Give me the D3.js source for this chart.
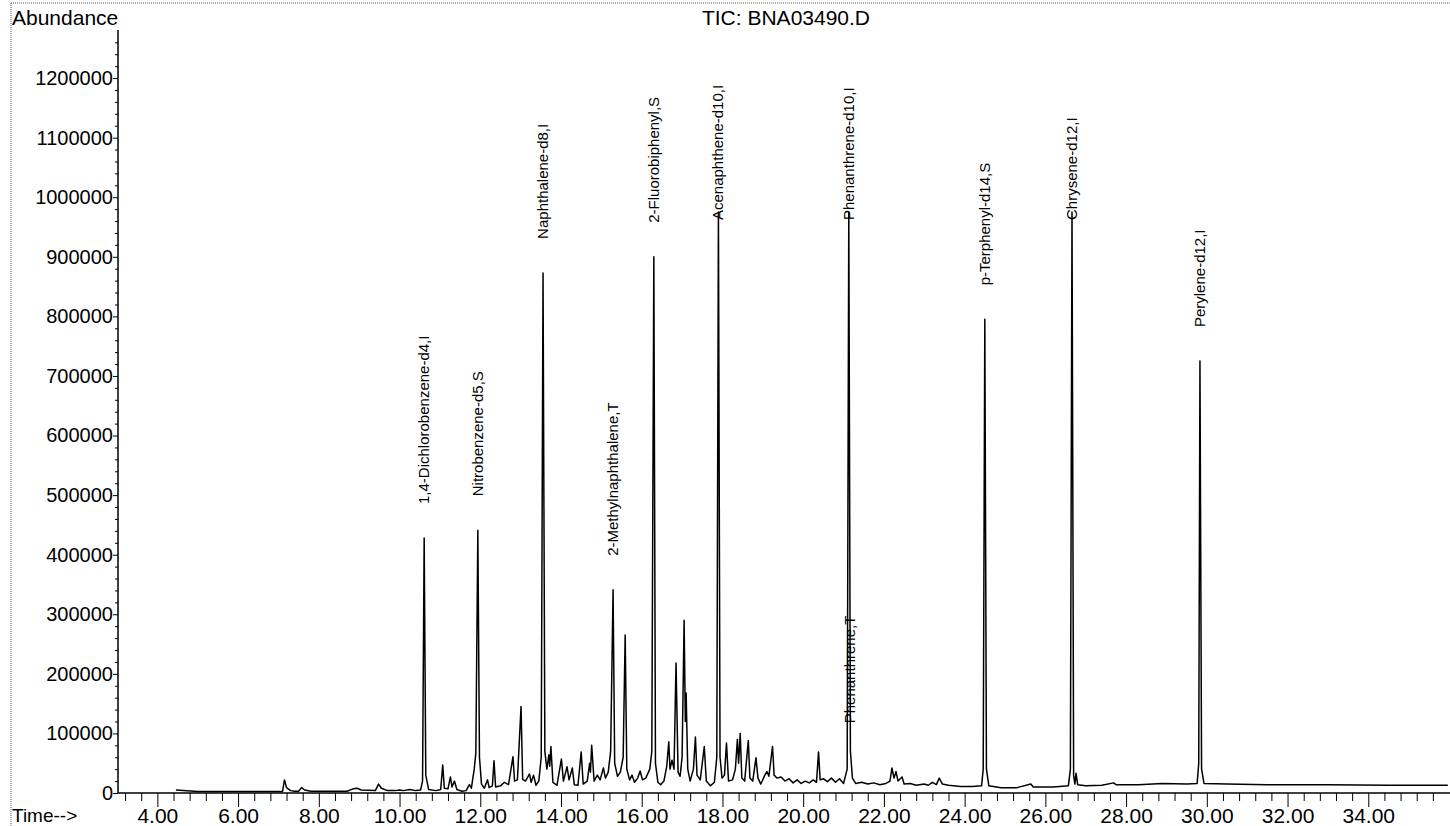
<!DOCTYPE html>
<html>
<head>
<meta charset="utf-8">
<script src="https://cdn.jsdelivr.net/npm/d3@7"></script>
<style>
body{margin:0;background:#fff;}
svg{display:block;font-family:"Liberation Sans",Arial,sans-serif;}
</style>
</head>
<body>
<script>
"use strict";

// TIC trace, [retention time (min), abundance]
const traceEarly = [
  [4.46,5000],[5.0,2500],[7.1,2500],[7.15,22000],[7.2,9000],[7.3,4000],[7.4,3000],
  [7.5,3000],[7.57,9000],[7.65,5000],[7.8,3000],[8.7,3000],[8.85,7000],[8.95,8000],
  [9.05,5000],[9.4,4000],[9.48,15000],[9.55,8000],[9.7,4000],[9.9,4000],[10.0,5000],
  [10.1,4000],[10.25,6000],[10.4,4000],[10.52,5000],[10.57,20000],[10.61,428000],
  [10.65,30000],[10.72,6000],[10.9,4000],[11.02,6000],[11.07,47000],[11.11,8000],
  [11.2,7000],[11.26,27000],[11.3,10000],[11.36,20000],[11.42,6000],[11.55,3000],
  [11.65,4000],[11.73,14000],[11.78,8000],[11.85,40000],[11.89,67000],[11.94,441000],
  [11.98,60000],[12.03,15000],[12.1,8000],[12.18,22000],[12.22,9000],[12.3,12000],
  [12.34,54000],[12.38,10000],[12.5,12000],[12.6,18000],[12.7,14000],[12.81,61000],
  [12.85,20000],[12.92,22000],[13.01,145000],[13.05,23000],[13.12,20000],[13.22,32000],
  [13.26,18000],[13.32,30000],[13.38,13000],[13.45,20000],[13.51,60000],[13.555,873000],
  [13.6,70000],[13.65,40000],[13.7,64000],[13.72,45000],[13.75,78000],[13.8,18000],
  [13.9,13000],[14.01,57000],[14.06,20000],[14.15,44000],[14.2,22000],[14.28,42000],
  [14.33,14000],[14.42,13000],[14.5,69000],[14.55,15000],[14.65,20000],[14.71,50000],
  [14.73,35000],[14.76,80000],[14.82,20000],[14.9,30000],[14.97,22000],[15.05,42000],
  [15.1,25000],[15.17,35000],[15.23,70000],[15.29,341000],[15.33,50000],[15.4,28000],
  [15.47,35000],[15.54,60000],[15.59,265000],[15.63,40000],[15.7,22000],[15.76,30000],
  [15.82,18000],[15.9,25000],[15.96,37000],[16.02,22000],[16.1,25000],[16.2,40000],
  [16.25,70000],[16.3,900000],[16.34,50000],[16.4,18000],[16.47,14000]
];
const traceMid = [
  [16.55,20000],[16.62,45000],[16.67,86000],[16.7,40000],[16.75,55000],[16.8,40000],
  [16.85,218000],[16.9,35000],[16.95,28000],[17.0,60000],[17.05,290000],[17.08,120000],
  [17.1,168000],[17.14,40000],[17.2,20000],[17.28,40000],[17.33,94000],[17.37,30000],
  [17.45,22000],[17.55,78000],[17.6,20000],[17.7,12000],[17.8,18000],[17.86,60000],
  [17.9,975000],[17.94,60000],[17.99,25000],[18.05,30000],[18.1,84000],[18.15,20000],
  [18.25,22000],[18.32,40000],[18.37,90000],[18.4,50000],[18.44,100000],[18.48,25000],
  [18.55,20000],[18.64,88000],[18.68,25000],[18.75,20000],[18.83,59000],[18.88,25000],
  [18.95,15000],[19.05,30000],[19.1,36000],[19.15,28000],[19.24,78000],[19.28,30000],
  [19.35,25000],[19.45,27000],[19.55,20000],[19.65,24000],[19.75,17000],[19.85,22000],
  [19.95,16000],[20.05,20000],[20.15,17000],[20.25,22000],[20.33,18000],[20.38,69000],
  [20.42,22000],[20.5,24000],[20.6,19000],[20.7,25000],[20.8,18000],[20.9,24000],
  [21.0,16000],[21.09,40000],[21.13,975000],[21.17,70000],[21.22,25000],[21.3,16000],
  [21.45,18000],[21.6,15000],[21.75,17000],[21.9,14000],[22.05,16000],[22.15,20000],
  [22.2,42000],[22.25,25000],[22.3,36000],[22.35,20000],[22.45,27000],[22.5,15000],
  [22.65,16000],[22.8,13000],[23.0,15000],[23.1,13000],[23.2,18000],[23.3,14000],
  [23.37,25000],[23.45,15000],[23.6,13000],[23.9,11000],[24.2,11000]
];
const traceLate = [
  [24.42,12000],[24.46,40000],[24.5,795000],[24.54,40000],[24.6,12000],[24.9,9000],
  [25.3,9000],[25.64,15000],[25.7,10000],[26.2,10000],[26.57,12000],[26.62,40000],
  [26.66,975000],[26.7,30000],[26.73,15000],[26.76,33000],[26.8,14000],[27.0,12000],
  [27.4,13000],[27.69,17000],[27.75,14000],[28.3,14000],[28.9,16000],[29.5,15000],
  [29.76,16000],[29.8,50000],[29.83,725000],[29.87,40000],[29.93,16000],[30.5,15000],
  [31.5,14000],[33.0,14000],[34.5,13000],[35.97,13000]
];

// peak annotations
const peakNames = ["1,4-Dichlorobenzene-d4,I","Nitrobenzene-d5,S","Naphthalene-d8,I",
  "2-Methylnaphthalene,T","2-Fluorobiphenyl,S","Acenaphthene-d10,I","Phenanthrene-d10,I",
  "Phenanthrene,T","p-Terphenyl-d14,S","Chrysene-d12,I","Perylene-d12,I"];
const peakRt = [10.61,11.94,13.555,15.29,16.3,17.9,21.13,21.15,24.5,26.66,29.83];
const peakTop = [428000,441000,873000,341000,900000,975000,975000,60000,795000,975000,725000];

const xMajor = [4,6,8,10,12,14,16,18,20,22,24,26,28,30,32,34];
const yMajor = [0,100000,200000,300000,400000,500000,600000,700000,800000,900000,1000000,1100000,1200000];

const w = 1450;
const h = 826;
const svg = d3.select("body").append("svg")
              .attr("width", w)
              .attr("height", h);

const xScale = d3.scaleLinear().domain([3, 36]).range([117, 1449]);
const yScale = d3.scaleLinear().domain([0, 1280000]).range([793, 30.4]);

// dotted frame of the printout
svg.append("line").attr("x1", 11).attr("y1", 3).attr("x2", w).attr("y2", 3)
   .attr("stroke", "#555").attr("stroke-width", 1).attr("stroke-dasharray", "1,1");
svg.append("line").attr("x1", 11).attr("y1", 3).attr("x2", 11).attr("y2", h)
   .attr("stroke", "#555").attr("stroke-width", 1).attr("stroke-dasharray", "1,1");

// x axis: minor ticks then major ticks with labels
const xMinor = d3.range(3.2, 36, 0.4).filter(t => !xMajor.some(m => Math.abs(m - t) < 0.01));
svg.append("g")
   .attr("transform", "translate(0,793)")
   .call(d3.axisBottom(xScale).tickValues(xMinor).tickSize(8).tickSizeOuter(0).tickFormat(""))
   .call(g => g.select(".domain").remove());
const xAxis = svg.append("g")
   .attr("transform", "translate(0,793)")
   .call(d3.axisBottom(xScale).tickValues(xMajor).tickSize(14).tickSizeOuter(0)
           .tickPadding(1).tickFormat(d3.format(".2f")));
xAxis.select(".domain").remove();
xAxis.selectAll("text").attr("font-size", 21).attr("font-family", "Liberation Sans, Arial, sans-serif");
svg.append("line").attr("x1", 118).attr("x2", w).attr("y1", 793).attr("y2", 793)
   .attr("stroke", "#000").attr("stroke-width", 1.5);

// y axis
const yMinor = d3.range(20000, 1280000, 20000).filter(v => v % 100000 !== 0);
svg.append("g")
   .attr("transform", "translate(118,0)")
   .call(d3.axisLeft(yScale).tickValues(yMinor).tickSize(3).tickSizeOuter(0).tickFormat(""))
   .call(g => g.select(".domain").remove());
const yAxis = svg.append("g")
   .attr("transform", "translate(118,0)")
   .call(d3.axisLeft(yScale).tickValues(yMajor).tickSize(5).tickSizeOuter(0)
           .tickPadding(0).tickFormat(d3.format("d")));
yAxis.select(".domain").remove();
yAxis.selectAll("text").attr("font-size", 20).attr("font-family", "Liberation Sans, Arial, sans-serif");
svg.append("line").attr("x1", 118).attr("x2", 118).attr("y1", 793).attr("y2", 30)
   .attr("stroke", "#000").attr("stroke-width", 1.5);

// texts
svg.append("text").attr("x", 12).attr("y", 25).attr("font-size", 21).text("Abundance");
svg.append("text").attr("x", 12).attr("y", 822).attr("font-size", 19).text("Time-->");
svg.append("text").attr("x", 786).attr("y", 25).attr("font-size", 21)
   .attr("text-anchor", "middle").text("TIC: BNA03490.D");

// chromatogram trace
const trace = traceEarly.concat(traceMid, traceLate);
const line = d3.line().x(d => xScale(d[0])).y(d => yScale(d[1]));
svg.append("path")
   .datum(trace)
   .attr("d", line)
   .attr("fill", "none")
   .attr("stroke", "#000")
   .attr("stroke-width", 1.5)
   .attr("stroke-linejoin", "round");

// peak labels, written upward above each peak
svg.selectAll(".peak-label")
   .data(peakNames)
   .enter()
   .append("text")
   .attr("class", "peak-label")
   .attr("font-size", 15)
   .attr("transform", (d, i) => {
      const px = xScale(peakRt[i]) + 5;
      const py = Math.max(yScale(peakTop[i]) - 34, 220);
      return "translate(" + px + "," + py + ") rotate(-90)";
   })
   .text(d => d);
</script>
</body>
</html>
